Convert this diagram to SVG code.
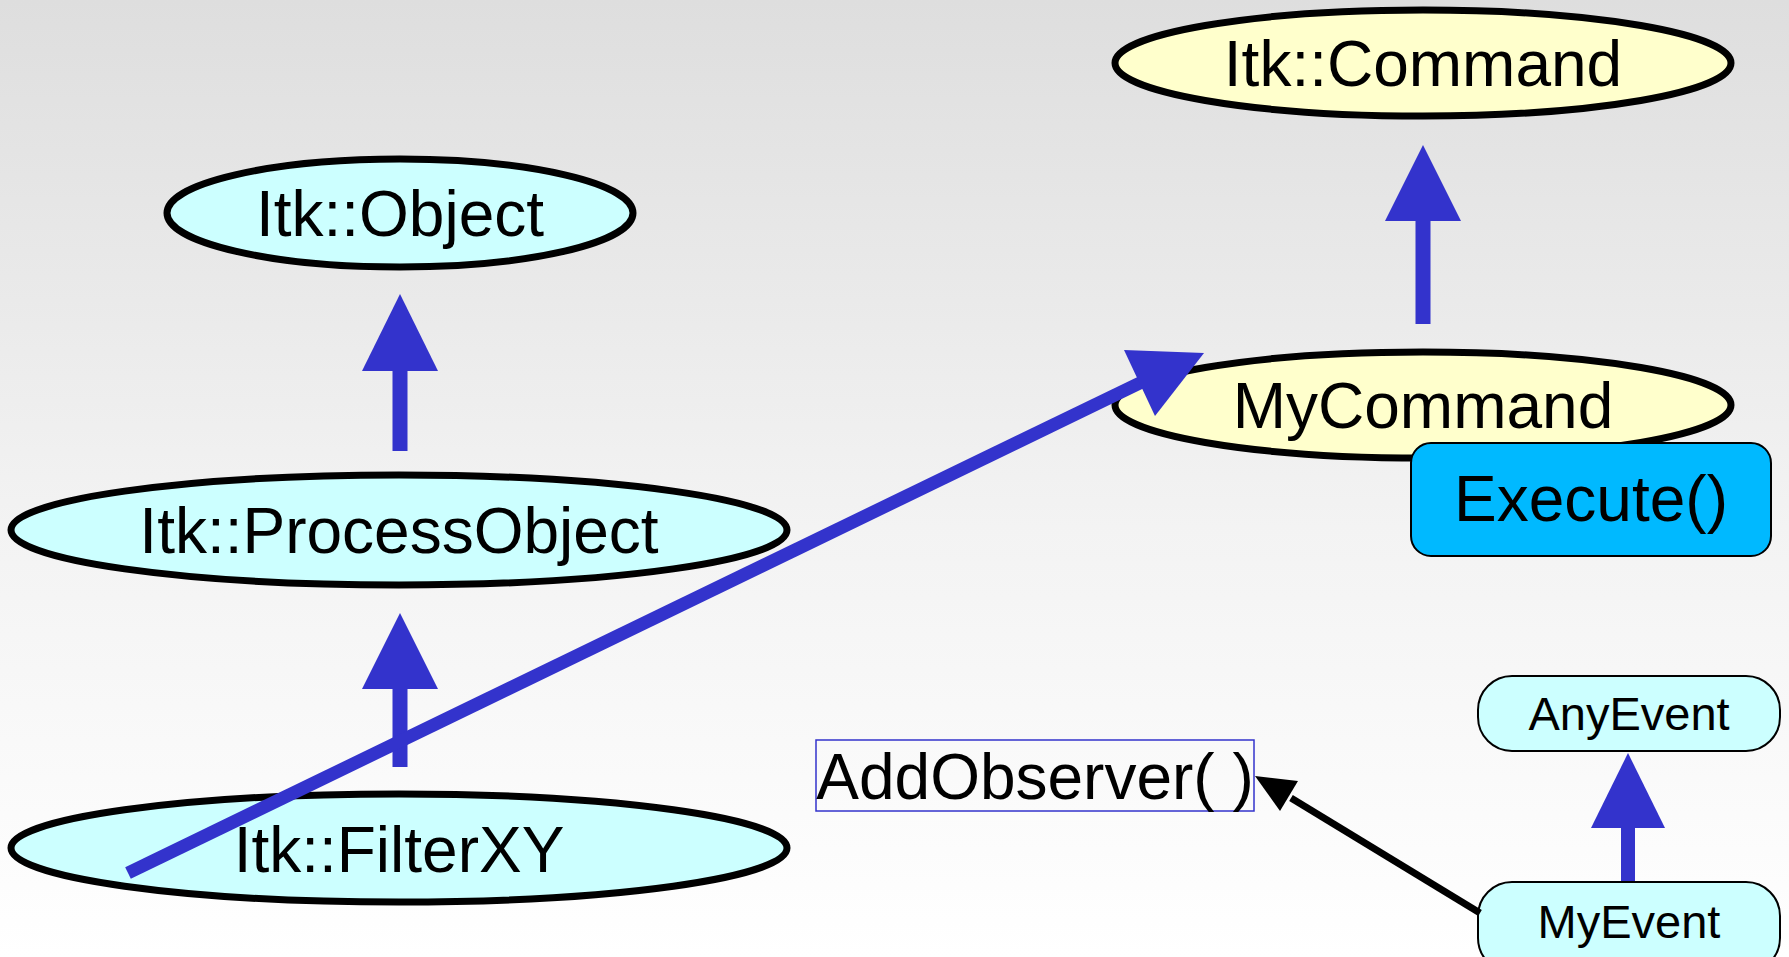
<svg xmlns="http://www.w3.org/2000/svg" width="1789" height="957" viewBox="0 0 1789 957">
  <defs>
    <linearGradient id="bg" x1="0" y1="0" x2="0" y2="1">
      <stop offset="0" stop-color="#dedede"/>
      <stop offset="0.55" stop-color="#f3f3f3"/>
      <stop offset="1" stop-color="#ffffff"/>
    </linearGradient>
    <style>
      .lbl { font-family: "Liberation Sans", Arial, sans-serif; fill: #000; text-anchor: middle; }
      .big { font-size: 64px; }
      .small { font-size: 47px; }
      .cls { stroke: #000; stroke-width: 7; }
      .cyan { fill: #ccffff; }
      .yellow { fill: #ffffcc; }
      .pill { fill: #ccffff; stroke: #000; stroke-width: 2; }
      .method { fill: #00b9ff; stroke: #000; stroke-width: 2; }
      .inh { stroke: #3333cc; fill: none; }
      .head { fill: #3333cc; }
      .call { stroke: #000; stroke-width: 7; fill: none; }
    </style>
  </defs>

  <rect x="0" y="0" width="1789" height="957" fill="url(#bg)"/>

  <!-- class nodes -->
  <g id="itk-command">
    <ellipse class="cls yellow" cx="1423" cy="63" rx="308" ry="53"/>
    <text class="lbl big" x="1423" y="86">Itk::Command</text>
  </g>
  <g id="itk-object">
    <ellipse class="cls cyan" cx="400" cy="213" rx="233" ry="54"/>
    <text class="lbl big" x="400" y="236">Itk::Object</text>
  </g>
  <g id="itk-processobject">
    <ellipse class="cls cyan" cx="399" cy="530" rx="388" ry="55"/>
    <text class="lbl big" x="399" y="553">Itk::ProcessObject</text>
  </g>
  <g id="itk-filterxy">
    <ellipse class="cls cyan" cx="399" cy="848" rx="388" ry="54"/>
    <text class="lbl big" x="399" y="872">Itk::FilterXY</text>
  </g>
  <g id="mycommand">
    <ellipse class="cls yellow" cx="1423" cy="405" rx="308" ry="53"/>
    <text class="lbl big" x="1423" y="428">MyCommand</text>
  </g>
  <g id="execute">
    <rect class="method" x="1411" y="443" width="360" height="113" rx="20"/>
    <text class="lbl big" x="1591" y="521">Execute()</text>
  </g>
  <g id="addobserver">
    <rect x="816" y="740" width="438" height="71" fill="none" stroke="#3333cc" stroke-width="1.5"/>
    <text class="lbl big" x="1035" y="799">AddObserver( )</text>
  </g>
  <g id="anyevent">
    <rect class="pill" x="1478" y="676" width="302" height="75" rx="34"/>
    <text class="lbl small" x="1629" y="730">AnyEvent</text>
  </g>
  <g id="myevent">
    <rect class="pill" x="1478" y="882" width="302" height="90" rx="34"/>
    <text class="lbl small" x="1629" y="938">MyEvent</text>
  </g>

  <!-- connectors -->
  <g id="connectors">
    <!-- ProcessObject -> Object -->
    <line class="inh" x1="400" y1="451" x2="400" y2="366" stroke-width="15"/>
    <polygon class="head" points="400,294 438,371 362,371"/>
    <!-- FilterXY -> ProcessObject -->
    <line class="inh" x1="400" y1="767" x2="400" y2="684" stroke-width="15"/>
    <polygon class="head" points="400,613 438,689 362,689"/>
    <!-- MyCommand -> Command -->
    <line class="inh" x1="1423" y1="324" x2="1423" y2="216" stroke-width="15"/>
    <polygon class="head" points="1423,145 1461,221 1385,221"/>
    <!-- MyEvent -> AnyEvent -->
    <line class="inh" x1="1628" y1="881" x2="1628" y2="823" stroke-width="14"/>
    <polygon class="head" points="1628,753 1665,828 1591,828"/>
    <!-- FilterXY -> MyCommand -->
    <line class="inh" x1="128" y1="873" x2="1144" y2="381" stroke-width="13"/>
    <polygon class="head" points="1204,353 1124,350 1155,416"/>
    <!-- MyEvent -> AddObserver( ) -->
    <line class="call" x1="1480" y1="913" x2="1291" y2="798"/>
    <polygon points="1255,776 1298,781 1280,811" fill="#000"/>
  </g>
</svg>
